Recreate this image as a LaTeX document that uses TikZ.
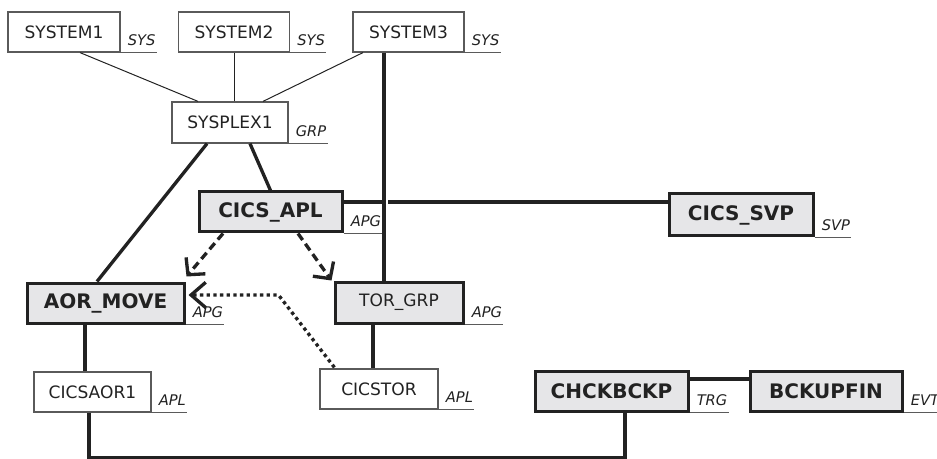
\documentclass[tikz,border=0pt]{standalone}
\usepackage{fontspec}
\setmainfont{DejaVu Sans}
\usetikzlibrary{arrows.meta}
\usetikzlibrary{calc}
\definecolor{boxgray}{RGB}{230,230,232}
\definecolor{ink}{RGB}{34,34,34}
\definecolor{rim}{RGB}{90,90,90}

\begin{document}
\begin{tikzpicture}[x=0.75pt, y=-0.75pt,
  plain/.style={draw=rim, line width=0.9pt, fill=white, text=ink, inner sep=0pt,
    minimum height=30pt, font=\fontsize{12.8}{15}\selectfont},
  heavy/.style={draw=ink, line width=2.25pt, fill=boxgray, text=ink, inner sep=0pt,
    minimum height=30pt, font=\bfseries\fontsize{15}{18}\selectfont},
  tag/.style={inner sep=0pt, text=ink, font=\itshape\fontsize{11}{13}\selectfont},
  tagline/.style={draw=rim, line width=0.75pt},
  thin/.style={draw=ink, line width=0.75pt},
  thickline/.style={draw=ink, line width=2.5pt},
  dasharrow/.style={draw=ink, line width=2.5pt, dash pattern=on 6pt off 3.5pt,
    -{Straight Barb[length=9pt,width=19pt]}},
  dotarrow/.style={draw=ink, line width=2.5pt, dash pattern=on 2.5pt off 2.5pt,
    -{Straight Barb[length=11pt,width=19pt]}}]
  \useasboundingbox (0,0) rectangle (937,459);

  \node[plain, minimum width=84pt] (sys1) at (64,32) {SYSTEM1};
  \node[plain, minimum width=83.25pt] (sys2) at (234,32) {SYSTEM2};
  \node[plain, minimum width=83.25pt] (sys3) at (408.5,32) {SYSTEM3};
  \node[plain, minimum width=87pt, minimum height=30.75pt] (sysplex) at (230,122.5) {SYSPLEX1};
  \node[heavy, minimum width=107.25pt] (apl) at (270.5,212) {CICS\_APL};
  \node[heavy, minimum width=108pt, minimum height=31.5pt] (svp) at (741,215) {CICS\_SVP};
  \node[heavy, minimum width=117.75pt] (aor) at (105.5,303) {AOR\_MOVE};
  \node[heavy, minimum width=96pt, minimum height=30.75pt,
    font=\fontsize{12.8}{15}\selectfont] (tor) at (399,302.5) {TOR\_GRP};
  \node[plain, minimum width=87.75pt] (cicsaor) at (92.5,392) {CICSAOR1};
  \node[plain, minimum width=88.5pt] (cicstor) at (379,389) {CICSTOR};
  \node[heavy, minimum width=114.75pt] (chk) at (611.5,391) {CHCKBCKP};
  \node[heavy, minimum width=114pt] (bck) at (826,391) {BCKUPFIN};

  \foreach \b/\t in {sys1/SYS, sys2/SYS, sys3/SYS, sysplex/GRP, apl/APG, svp/SVP,
      aor/APG, tor/APG, cicsaor/APL, cicstor/APL, chk/TRG, bck/EVT} {
    \node[tag, anchor=base west] (\b-tag) at ($(\b.south east)+(7,-7)$) {\t};
    \draw[tagline] (\b.south east) -- ($(\b.south east -| \b-tag.east)+(1,0)$);
  }

  \draw[thin] ($(sys1.south)+(16,0)$) -- ($(sysplex.north)+(-32,0)$);
  \draw[thin] (sys2.south) -- (sys2.south |- sysplex.north);
  \draw[thin] ($(sys3.south)+(-45.5,0)$) -- ($(sysplex.north)+(33,0)$);

  \coordinate (s3down) at ($(sys3.south)+(-24.5,0)$);
  \draw[thickline] (s3down) -- (s3down |- tor.north);
  \coordinate (aplout) at ($(apl.east)+(0,-10)$);
  \coordinate (cross) at (s3down |- aplout);
  \draw[thickline] (aplout) -- ($(cross)+(-2,0)$);
  \draw[thickline] ($(cross)+(4,0)$) -- (cross -| svp.west);

  \draw[thickline] ($(sysplex.south)+(-23,0)$) -- ($(aor.north)+(-8.5,0)$);
  \draw[thickline] ($(sysplex.south)+(20,0)$) -- (apl.north);

  \draw[dasharrow] ($(apl.south)+(-47.5,0)$) -- ($(aor.north east)+(1,-5)$);
  \draw[dasharrow] ($(apl.south)+(27.5,0)$) -- ($(tor.north west)+(-2,0)$);

  \coordinate (torcorner) at ($(cicstor.north west)+(15,-1)$);
  \coordinate (bend) at ($(aor.east)+(93,-8)$);
  \draw[dotarrow] (torcorner) -- (bend) -- ($(aor.east)+(3,-8)$);

  \coordinate (aordown) at ($(aor.south)+(-20.5,0)$);
  \draw[thickline] (aordown) -- (aordown |- cicsaor.north);
  \coordinate (tordown) at ($(tor.south)+(-26,0)$);
  \draw[thickline] (tordown) -- (tordown |- cicstor.north);

  \coordinate (aorout) at ($(cicsaor.south)+(-3.5,0)$);
  \coordinate (chkout) at ($(chk.south)+(13.5,0)$);
  \draw[thickline] (aorout) -- ++(0,45) -| (chkout);
  \coordinate (chkright) at ($(chk.east)+(0,-12)$);
  \draw[thickline] (chkright) -- (chkright -| bck.west);
\end{tikzpicture}
\end{document}
